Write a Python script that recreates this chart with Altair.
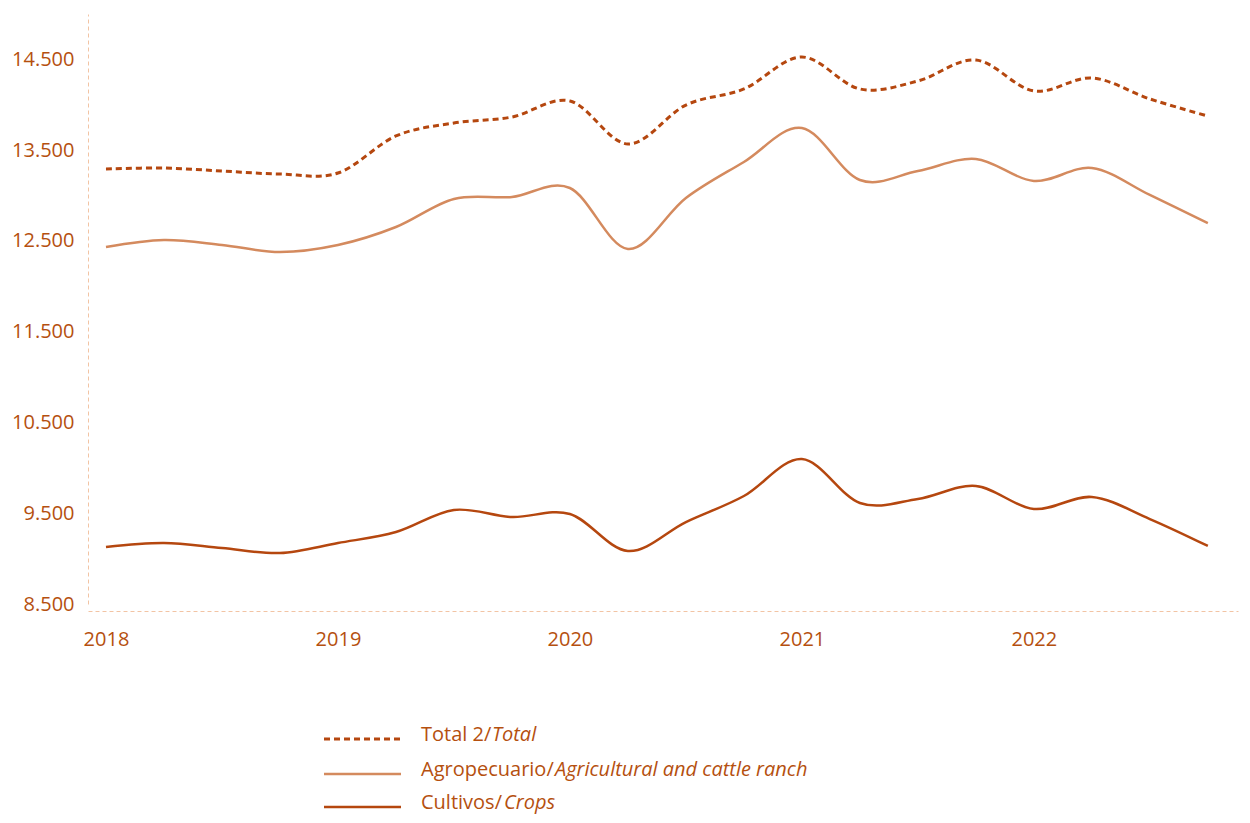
import altair as alt
import pandas as pd

years = ["2018", "2019", "2020", "2021", "2022"]
quarters = [f"{y}-T{q}" for y in years for q in range(1, 5)]

total = [13292, 13303, 13270, 13237, 13248, 13656, 13799, 13865, 14042, 13568,
         13997, 14174, 14526, 14174, 14262, 14493, 14152, 14295, 14064, 13876]
agro = [12433, 12510, 12455, 12378, 12455, 12653, 12962, 12984, 13083, 12411,
        12973, 13370, 13744, 13171, 13270, 13403, 13160, 13303, 13006, 12697]
crops = [9128, 9172, 9117, 9062, 9172, 9293, 9536, 9458, 9492, 9084,
         9403, 9690, 10097, 9613, 9657, 9800, 9547, 9679, 9436, 9139]

series_names = ["Total", "Agro", "Crops"]
y_ticks = [8500, 9500, 10500, 11500, 12500, 13500, 14500]

C_DARK = "#B5470F"
C_LIGHT = "#D48A5E"
C_TEXT = "#B5500F"
C_AXIS = "#F2C4A4"
FONT = "Open Sans"
FS = 20

rows = []
for name, vals in zip(series_names, [total, agro, crops]):
    for i, (q, v) in enumerate(zip(quarters, vals)):
        rows.append({"serie": name, "idx": i, "trimestre": q, "valor": v})
df = pd.DataFrame(rows)

xscale = alt.Scale(domain=[-0.31, 19.52], nice=False, zero=False)
yscale = alt.Scale(domain=[8500, 15000], nice=False, zero=False)

xaxis = alt.Axis(values=[0, 4, 8, 12, 16], labelExpr="toString(2018 + datum.value / 4)",
                 title=None, grid=False, ticks=False, domainColor=C_AXIS, domainDash=[4, 3],
                 domainWidth=1, offset=7, labelColor=C_TEXT, labelFont=FONT, labelFontSize=FS,
                 labelPadding=18)
yaxis = alt.Axis(values=y_ticks, labelExpr="replace(format(datum.value, ','), ',', '.')",
                 title=None, grid=False, ticks=False, domainColor=C_AXIS, domainDash=[4, 3],
                 domainWidth=1, labelColor=C_TEXT, labelFont=FONT, labelFontSize=FS,
                 labelPadding=14)

base = alt.Chart(df).encode(
    x=alt.X("idx:Q", scale=xscale, axis=xaxis),
    y=alt.Y("valor:Q", scale=yscale, axis=yaxis),
)

line_total = base.transform_filter(alt.datum.serie == "Total").mark_line(
    interpolate="cardinal", tension=0, color=C_DARK, strokeWidth=3, strokeDash=[6, 4])
line_agro = base.transform_filter(alt.datum.serie == "Agro").mark_line(
    interpolate="cardinal", tension=0, color=C_LIGHT, strokeWidth=2.5)
line_crops = base.transform_filter(alt.datum.serie == "Crops").mark_line(
    interpolate="cardinal", tension=0, color=C_DARK, strokeWidth=2.5)

# Legend (manual, because of mixed upright / italic text)
leg_items = [
    ("Total 2/", "Total", C_DARK, [6, 4], 3, 725),
    ("Agropecuario/", "Agricultural and cattle ranch", C_LIGHT, [1, 0], 2.5, 760),
    ("Cultivos/", "Crops", C_DARK, [1, 0], 2.5, 793),
]
italic_dx = [71, 134, 83]
leg_layers = []
one = pd.DataFrame({"a": [0]})
for (up, it, col, dash, sw, yy), dx in zip(leg_items, italic_dx):
    leg_layers.append(alt.Chart(one).mark_rule(color=col, strokeWidth=sw, strokeDash=dash).encode(
        x=alt.value(236), x2=alt.value(313), y=alt.value(yy)))
    leg_layers.append(alt.Chart(one).mark_text(text=up, align="left", baseline="alphabetic",
                                               font=FONT, fontSize=FS, color=C_TEXT).encode(
        x=alt.value(333), y=alt.value(yy + 2)))
    leg_layers.append(alt.Chart(one).mark_text(text=it, align="left", baseline="alphabetic",
                                               font=FONT, fontSize=FS, fontStyle="italic",
                                               color=C_TEXT).encode(
        x=alt.value(333 + dx), y=alt.value(yy + 2)))

chart = alt.layer(line_total, line_agro, line_crops, *leg_layers).properties(
    width=1150, height=590,
    autosize=alt.AutoSizeParams(type="none"),
    padding={"left": 80, "top": 6, "right": 4, "bottom": 211},
    background="white",
).configure_view(stroke=None)

chart.save("out.html", embed_options={"renderer": "svg", "actions": False})
